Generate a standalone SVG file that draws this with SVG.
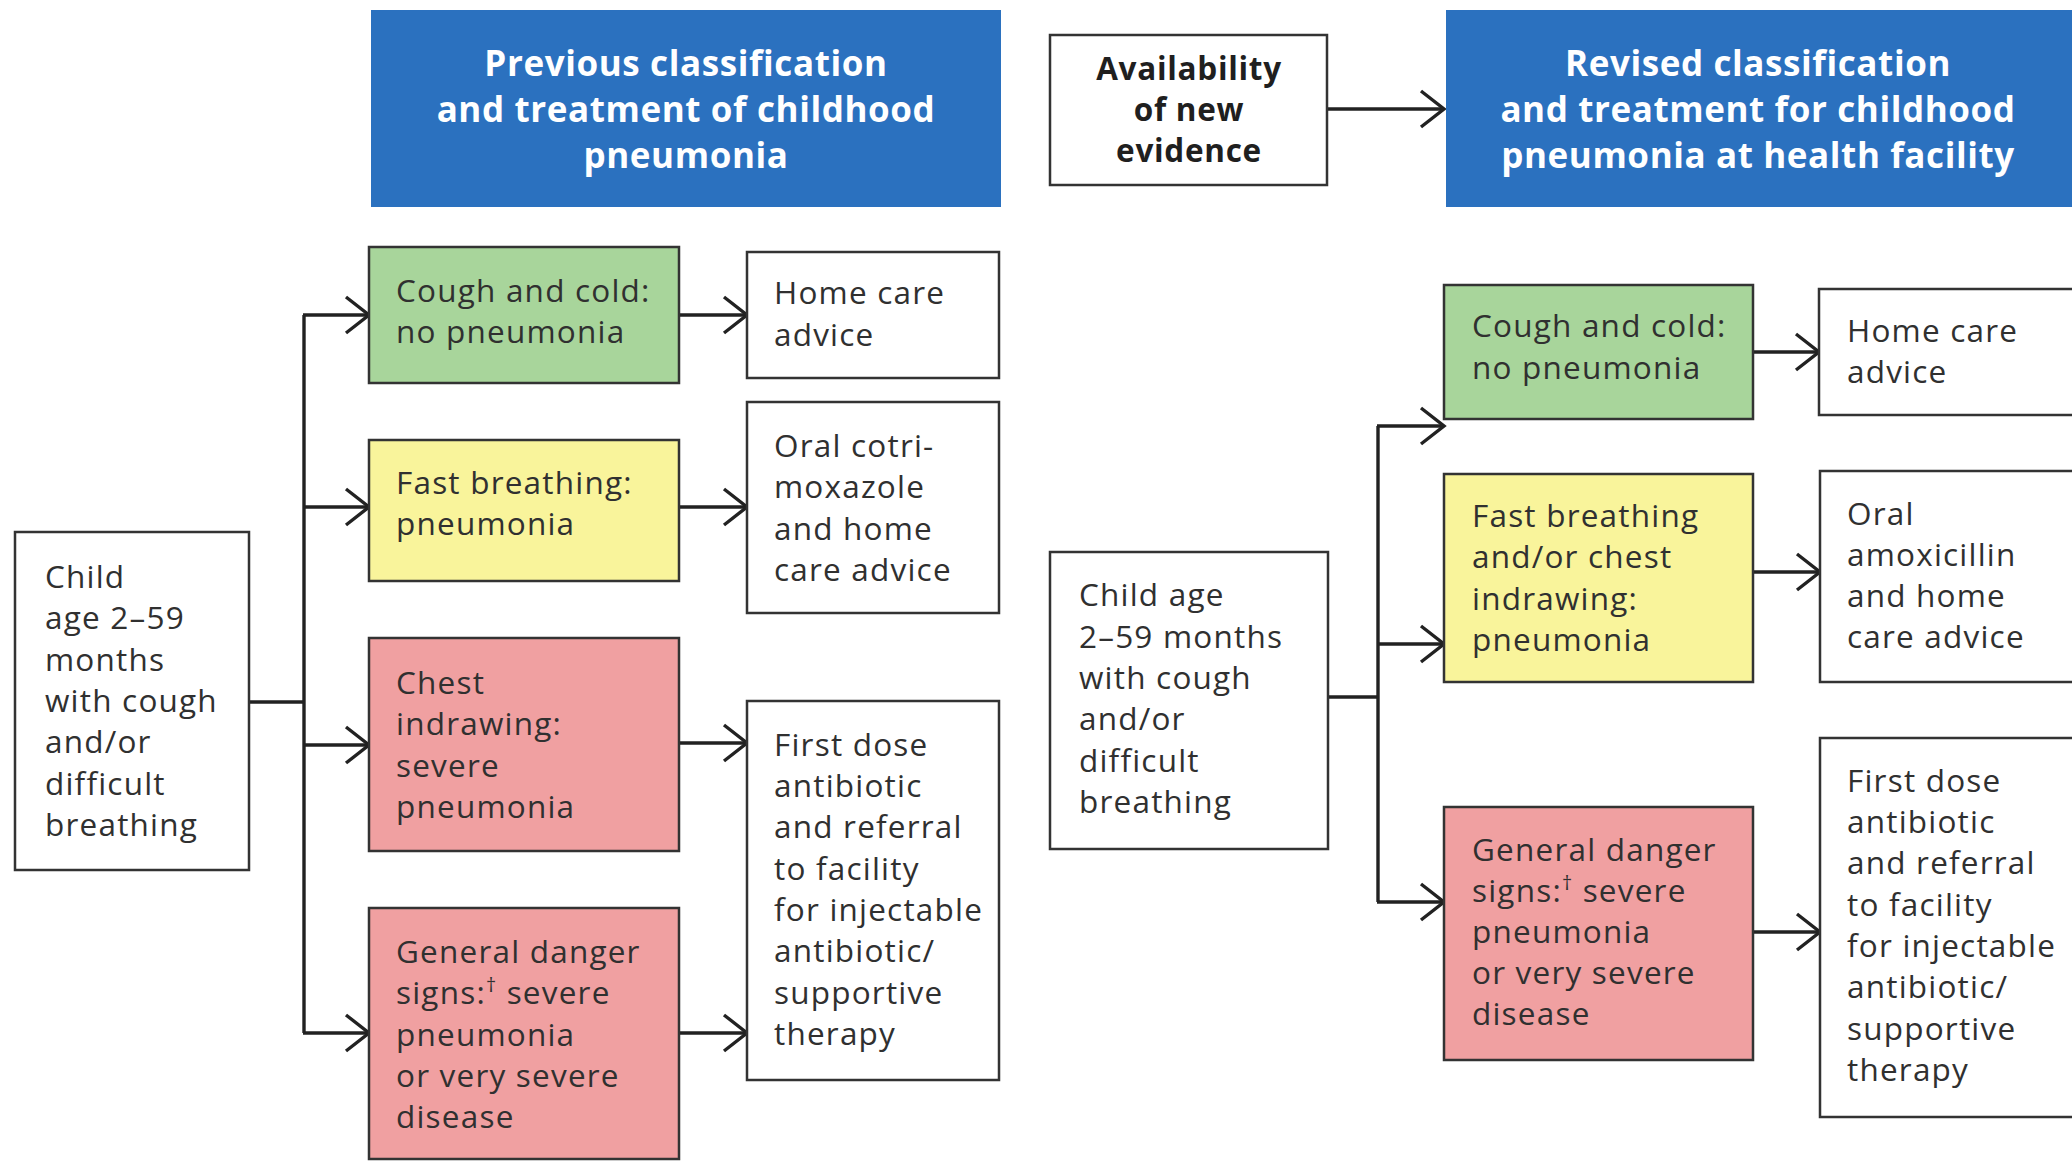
<svg xmlns="http://www.w3.org/2000/svg" width="2072" height="1162" viewBox="0 0 2072 1162">
<defs>
<style>
.hdr{fill:#2b71bf}
.hdrt{font-family:'Open Sans','Noto Sans',sans-serif;font-weight:bold;font-size:35px;letter-spacing:0.6px;fill:#ffffff;text-anchor:middle}
.box{stroke:#333333;stroke-width:2.5}
.w{fill:#ffffff}
.g{fill:#a8d59b}
.y{fill:#f9f49b}
.r{fill:#f0a0a1}
.t{font-family:'Open Sans','Noto Sans',sans-serif;font-size:31.5px;letter-spacing:1.2px;fill:#303030}
.tb{font-family:'Open Sans','Noto Sans',sans-serif;font-weight:bold;font-size:31.5px;letter-spacing:0.7px;fill:#1f1f1f;text-anchor:middle}
.c{fill:none;stroke:#222222;stroke-width:3.4}
</style>
<marker id="ah" markerUnits="userSpaceOnUse" viewBox="0 0 28 40" refX="25" refY="20" markerWidth="28" markerHeight="40" orient="auto">
<path d="M2,2 L25,20 L2,38" fill="none" stroke="#222222" stroke-width="3.4"/>
</marker>
</defs>
<rect width="2072" height="1162" fill="#ffffff"/>

<g id="connectors">
<path class="c" d="M1327,109 H1444" marker-end="url(#ah)"/>
<path class="c" d="M249,702 H304"/>
<path class="c" d="M304,315 V1033"/>
<path class="c" d="M303,315 H369" marker-end="url(#ah)"/>
<path class="c" d="M304,507 H369" marker-end="url(#ah)"/>
<path class="c" d="M304,745 H369" marker-end="url(#ah)"/>
<path class="c" d="M303,1033 H369" marker-end="url(#ah)"/>
<path class="c" d="M679,315 H747" marker-end="url(#ah)"/>
<path class="c" d="M679,507 H747" marker-end="url(#ah)"/>
<path class="c" d="M679,743 H747" marker-end="url(#ah)"/>
<path class="c" d="M679,1033 H747" marker-end="url(#ah)"/>
<path class="c" d="M1328,697 H1378"/>
<path class="c" d="M1378,426 V902"/>
<path class="c" d="M1377,426 H1444" marker-end="url(#ah)"/>
<path class="c" d="M1378,644 H1444" marker-end="url(#ah)"/>
<path class="c" d="M1377,902 H1444" marker-end="url(#ah)"/>
<path class="c" d="M1753,352 H1819" marker-end="url(#ah)"/>
<path class="c" d="M1753,572 H1820" marker-end="url(#ah)"/>
<path class="c" d="M1753,932 H1820" marker-end="url(#ah)"/>
</g>

<g id="hdr-prev">
<rect class="hdr" x="371" y="10" width="630" height="197"/>
<text class="hdrt"><tspan x="686" y="76">Previous classification</tspan><tspan x="686" y="122">and treatment of childhood</tspan><tspan x="686" y="168">pneumonia</tspan></text>
</g>

<g id="evidence">
<rect class="box w" x="1050" y="35" width="277" height="150"/>
<text class="tb"><tspan x="1189" y="80">Availability</tspan><tspan x="1189" y="121">of new</tspan><tspan x="1189" y="162">evidence</tspan></text>
</g>

<g id="hdr-rev">
<rect class="hdr" x="1446" y="10" width="640" height="197"/>
<text class="hdrt"><tspan x="1758" y="76">Revised classification</tspan><tspan x="1758" y="122">and treatment for childhood</tspan><tspan x="1758" y="168">pneumonia at health facility</tspan></text>
</g>

<g id="child-prev">
<rect class="box w" x="15" y="532" width="234" height="338"/>
<text class="t"><tspan x="45" y="588">Child</tspan><tspan x="45" y="629">age 2–59</tspan><tspan x="45" y="671">months</tspan><tspan x="45" y="712">with cough</tspan><tspan x="45" y="753">and/or</tspan><tspan x="45" y="795">difficult</tspan><tspan x="45" y="836">breathing</tspan></text>
</g>

<g id="cough-prev">
<rect class="box g" x="369" y="247" width="310" height="136"/>
<text class="t"><tspan x="396" y="302">Cough and cold:</tspan><tspan x="396" y="343">no pneumonia</tspan></text>
</g>

<g id="home-prev">
<rect class="box w" x="747" y="252" width="252" height="126"/>
<text class="t"><tspan x="774" y="304">Home care</tspan><tspan x="774" y="346">advice</tspan></text>
</g>

<g id="fast-prev">
<rect class="box y" x="369" y="440" width="310" height="141"/>
<text class="t"><tspan x="396" y="494">Fast breathing:</tspan><tspan x="396" y="535">pneumonia</tspan></text>
</g>

<g id="oral-prev">
<rect class="box w" x="747" y="402" width="252" height="211"/>
<text class="t"><tspan x="774" y="457">Oral cotri-</tspan><tspan x="774" y="498">moxazole</tspan><tspan x="774" y="540">and home</tspan><tspan x="774" y="581">care advice</tspan></text>
</g>

<g id="chest-prev">
<rect class="box r" x="369" y="638" width="310" height="213"/>
<text class="t"><tspan x="396" y="694">Chest</tspan><tspan x="396" y="735">indrawing:</tspan><tspan x="396" y="777">severe</tspan><tspan x="396" y="818">pneumonia</tspan></text>
</g>

<g id="danger-prev">
<rect class="box r" x="369" y="908" width="310" height="251"/>
<text class="t"><tspan x="396" y="963">General danger</tspan><tspan x="396" y="1004">signs:</tspan><tspan font-size="20" dy="-12">†</tspan><tspan dy="12"> severe</tspan><tspan x="396" y="1046">pneumonia</tspan><tspan x="396" y="1087">or very severe</tspan><tspan x="396" y="1128">disease</tspan></text>
</g>

<g id="first-prev">
<rect class="box w" x="747" y="701" width="252" height="379"/>
<text class="t"><tspan x="774" y="756">First dose</tspan><tspan x="774" y="797">antibiotic</tspan><tspan x="774" y="838">and referral</tspan><tspan x="774" y="880">to facility</tspan><tspan x="774" y="921">for injectable</tspan><tspan x="774" y="962">antibiotic/</tspan><tspan x="774" y="1004">supportive</tspan><tspan x="774" y="1045">therapy</tspan></text>
</g>

<g id="child-rev">
<rect class="box w" x="1050" y="552" width="278" height="297"/>
<text class="t"><tspan x="1079" y="606">Child age</tspan><tspan x="1079" y="648">2–59 months</tspan><tspan x="1079" y="689">with cough</tspan><tspan x="1079" y="730">and/or</tspan><tspan x="1079" y="772">difficult</tspan><tspan x="1079" y="813">breathing</tspan></text>
</g>

<g id="cough-rev">
<rect class="box g" x="1444" y="285" width="309" height="134"/>
<text class="t"><tspan x="1472" y="337">Cough and cold:</tspan><tspan x="1472" y="379">no pneumonia</tspan></text>
</g>

<g id="home-rev">
<rect class="box w" x="1819" y="289" width="270" height="126"/>
<text class="t"><tspan x="1847" y="342">Home care</tspan><tspan x="1847" y="383">advice</tspan></text>
</g>

<g id="fast-rev">
<rect class="box y" x="1444" y="474" width="309" height="208"/>
<text class="t"><tspan x="1472" y="527">Fast breathing</tspan><tspan x="1472" y="568">and/or chest</tspan><tspan x="1472" y="610">indrawing:</tspan><tspan x="1472" y="651">pneumonia</tspan></text>
</g>

<g id="oral-rev">
<rect class="box w" x="1820" y="471" width="270" height="211"/>
<text class="t"><tspan x="1847" y="525">Oral</tspan><tspan x="1847" y="566">amoxicillin</tspan><tspan x="1847" y="607">and home</tspan><tspan x="1847" y="648">care advice</tspan></text>
</g>

<g id="danger-rev">
<rect class="box r" x="1444" y="807" width="309" height="253"/>
<text class="t"><tspan x="1472" y="861">General danger</tspan><tspan x="1472" y="902">signs:</tspan><tspan font-size="20" dy="-12">†</tspan><tspan dy="12"> severe</tspan><tspan x="1472" y="943">pneumonia</tspan><tspan x="1472" y="984">or very severe</tspan><tspan x="1472" y="1025">disease</tspan></text>
</g>

<g id="first-rev">
<rect class="box w" x="1820" y="738" width="270" height="379"/>
<text class="t"><tspan x="1847" y="792">First dose</tspan><tspan x="1847" y="833">antibiotic</tspan><tspan x="1847" y="874">and referral</tspan><tspan x="1847" y="916">to facility</tspan><tspan x="1847" y="957">for injectable</tspan><tspan x="1847" y="998">antibiotic/</tspan><tspan x="1847" y="1040">supportive</tspan><tspan x="1847" y="1081">therapy</tspan></text>
</g>
</svg>
